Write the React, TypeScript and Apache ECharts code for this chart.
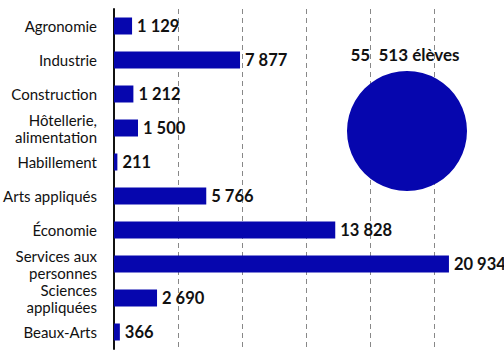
import React, { useEffect, useRef } from "react";
import * as echarts from "echarts";

const categories = [
  "Agronomie",
  "Industrie",
  "Construction",
  "Hôtellerie,\nalimentation",
  "Habillement",
  "Arts appliqués",
  "Économie",
  "Services aux\npersonnes",
  "Sciences\nappliquées",
  "Beaux-Arts",
];
const values = [1129, 7877, 1212, 1500, 211, 5766, 13828, 20934, 2690, 366];
const gridValues = [4000, 8000, 12000, 16000, 20000];
const totalLabel = "55  513 élèves";

const fmt = (v: number) => String(v).replace(/\B(?=(\d{3})+(?!\d))/g, " ");

const BLUE = "#0606ae";
const FONT = "Lato, 'Open Sans', sans-serif";

export default function App() {
  const ref = useRef<HTMLDivElement>(null);
  useEffect(() => {
    if (!ref.current) return;
    const chart = echarts.init(ref.current, null, { renderer: "svg" });
    chart.setOption({
      animation: false,
      backgroundColor: "#ffffff",
      grid: {
        left: 114,
        top: 9,
        width: 384,
        height: 340,
        containLabel: false,
        outerBoundsMode: "none",
      },
      xAxis: {
        type: "value",
        min: 0,
        max: 24000,
        interval: 4000,
        axisLine: { show: false },
        axisTick: { show: false },
        axisLabel: { show: false },
        splitLine: { show: false },
      },
      yAxis: {
        type: "category",
        data: categories,
        inverse: true,
        axisLine: { show: true, lineStyle: { color: "#111", width: 2 } },
        axisTick: { show: false },
        axisLabel: {
          color: "#111",
          fontFamily: FONT,
          fontSize: 15,
          lineHeight: 17,
          margin: 17,
          align: "right",
        },
      },
      series: [
        {
          type: "bar",
          data: values,
          barWidth: 17,
          itemStyle: { color: BLUE },
          label: {
            show: true,
            position: "right",
            distance: 5,
            color: "#111",
            fontFamily: FONT,
            fontWeight: "bold",
            fontSize: 16.5,
            formatter: (p: any) => fmt(p.value),
          },
          markLine: {
            silent: true,
            symbol: "none",
            label: { show: false },
            lineStyle: { color: "#888", type: [5, 4], width: 1 },
            data: gridValues.map((v) => ({ xAxis: v })),
            z: 0,
          },
          z: 3,
        },
      ],
      graphic: [
        {
          type: "circle",
          shape: { cx: 407, cy: 131, r: 60 },
          style: { fill: BLUE },
          z: 10,
        },
        {
          type: "text",
          x: 405,
          y: 54,
          style: {
            text: totalLabel,
            fill: "#111",
            font: `bold 17px ${FONT}`,
            align: "center",
            verticalAlign: "middle",
          },
          z: 10,
        },
      ],
    });
    return () => chart.dispose();
  }, []);
  return (
    <div
      ref={ref}
      style={{ position: "fixed", left: 0, top: 0, width: 504, height: 351 }}
    />
  );
}
